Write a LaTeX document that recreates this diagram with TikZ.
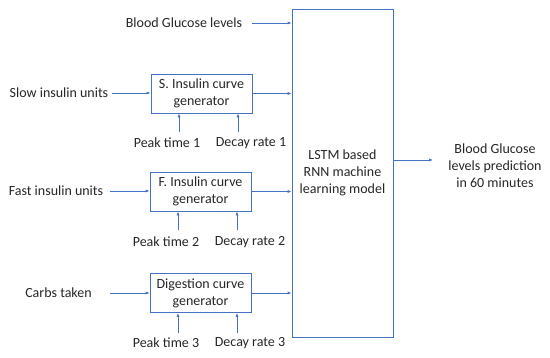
\documentclass[tikz,border=0pt]{standalone}
\usepackage{fontspec}
\setmainfont{Carlito}
\usetikzlibrary{arrows.meta}
\definecolor{lineblue}{HTML}{4472C4}
\definecolor{txt}{HTML}{262626}
\begin{document}
\begin{tikzpicture}[x=1pt,y=-1pt,
  every node/.style={font=\fontsize{14}{17}\selectfont, text=txt},
  genbox/.style={draw=lineblue, line width=0.8pt, minimum width=101pt, minimum height=39pt, align=center, inner sep=1pt},
  lbl/.style={inner sep=1pt, align=center},
  arr/.style={draw=lineblue, line width=0.8pt, -{Latex[length=4pt,width=3.2pt]}}]
\useasboundingbox (0,0) rectangle (550,357);
% main box
\node[draw=lineblue, line width=0.8pt, minimum width=101pt, minimum height=328pt, align=center] (lstm) at (342.5,173) {LSTM based\\RNN machine\\learning model};
% generator boxes
\node[genbox] (sbox) at (201.5,93.5) {S. Insulin curve\\generator};
\node[genbox] (fbox) at (200.5,191.5) {F. Insulin curve\\generator};
\node[genbox] (dbox) at (200.5,293) {Digestion curve\\generator};
% left labels
\node[lbl] (bgl) at (184,23) {Blood Glucose levels};
\node[lbl] (slow) at (59,93) {Slow insulin units};
\node[lbl] (fast) at (56,191) {Fast insulin units};
\node[lbl] (carbs) at (58.5,293) {Carbs taken};
% parameter labels
\node[lbl] (p1) at (167,143) {Peak time 1};
\node[lbl] (d1) at (251,143) {Decay rate 1};
\node[lbl] (p2) at (166,242) {Peak time 2};
\node[lbl] (d2) at (250,242) {Decay rate 2};
\node[lbl] (p3) at (166,343) {Peak time 3};
\node[lbl] (d3) at (250,343) {Decay rate 3};
% output label
\node[lbl] (out) at (495,166) {Blood Glucose\\levels prediction\\in 60 minutes};
% arrow start coordinates
\coordinate (bgls) at (252,23);
\coordinate (slows) at (112,93);
\coordinate (fasts) at (110,191);
\coordinate (carbss) at (110,293);
\coordinate (p1s) at (179,132);
\coordinate (d1s) at (238,132);
\coordinate (p2s) at (178,230);
\coordinate (d2s) at (237,230);
\coordinate (p3s) at (178,333);
\coordinate (d3s) at (237,333);
\coordinate (outs) at (433,160);
% arrows
\draw[arr] (bgls) -- (bgls -| lstm.west);
\draw[arr] (slows) -- (slows -| sbox.west);
\draw[arr] (fasts) -- (fasts -| fbox.west);
\draw[arr] (carbss) -- (carbss -| dbox.west);
\draw[arr] (sbox.east) -- (sbox.east -| lstm.west);
\draw[arr] (fbox.east) -- (fbox.east -| lstm.west);
\draw[arr] (dbox.east) -- (dbox.east -| lstm.west);
\draw[arr] (p1s) -- (p1s |- sbox.south);
\draw[arr] (d1s) -- (d1s |- sbox.south);
\draw[arr] (p2s) -- (p2s |- fbox.south);
\draw[arr] (d2s) -- (d2s |- fbox.south);
\draw[arr] (p3s) -- (p3s |- dbox.south);
\draw[arr] (d3s) -- (d3s |- dbox.south);
\draw[arr] (outs -| lstm.east) -- (outs);
\end{tikzpicture}
\end{document}
